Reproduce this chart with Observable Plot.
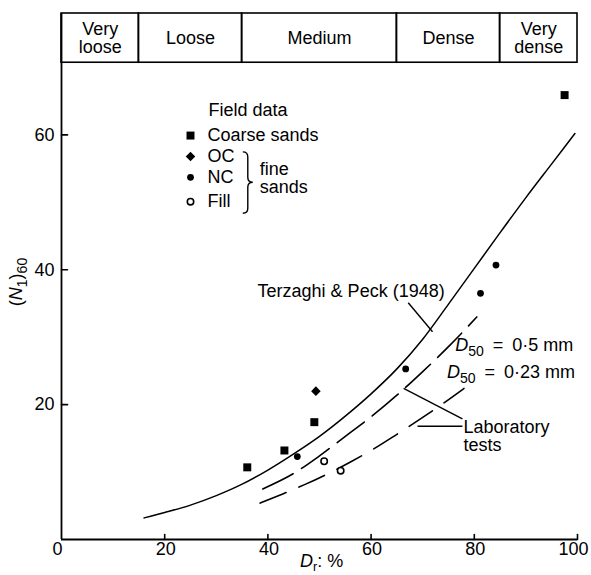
<!DOCTYPE html>
<html>
<head>
<meta charset="utf-8">
<script src="https://cdn.jsdelivr.net/npm/d3@7"></script>
<script src="https://cdn.jsdelivr.net/npm/@observablehq/plot@0.6"></script>
<style>
  html, body { margin: 0; padding: 0; background: #fff; }
  #chart svg { display: block; }
</style>
</head>
<body>
<div id="chart"></div>
<script>
const FONT = '"Liberation Sans", Arial, Helvetica, sans-serif';
const FS = 18;

// Density classes (relative density, %)
const densityClasses = ["Very\nloose", "Loose", "Medium", "Dense", "Very\ndense"];
const densityBounds = [0, 15, 35, 65, 85, 100];

// Field data: relative density Dr (%) and (N1)60
const coarseSandsDr = [36, 43.2, 49, 97.5];
const coarseSandsN  = [10.7, 13.2, 17.4, 65.9];
const ocDr = [49.3];
const ocN  = [22.0];
const ncDr = [45.7, 66.7, 81.2, 84.2];
const ncN  = [12.3, 25.3, 36.5, 40.7];
const fillDr = [50.9, 54.1];
const fillN  = [11.6, 10.2];

// Terzaghi & Peck (1948)
const tpDr = [16, 20, 25, 30, 35, 40, 45, 50, 55, 60, 65, 70, 75, 80, 85, 90, 95, 99.5];
const tpN  = [3.2, 4.0, 5.1, 6.5, 8.2, 10.3, 12.7, 15.3, 18.3, 21.6, 25.3, 29.7, 34.9, 40.2, 45.5, 50.7, 55.7, 60.2];

// Laboratory tests
const lab05Dr  = [39, 45, 50, 55, 60, 65, 70, 75, 80.5];
const lab05N   = [7.5, 9.8, 12.4, 15.3, 18.2, 21.4, 24.9, 28.6, 33.0];
const lab023Dr = [38.5, 43, 47, 52, 56, 60, 65, 70, 74, 78];
const lab023N  = [5.4, 6.8, 8.1, 9.9, 11.5, 13.2, 15.6, 18.1, 20.2, 22.4];

// Axis ticks
const xTicks = [0, 20, 40, 60, 80, 100];
const yTicks = [20, 40, 60];

// Legend entries
const legendLabels = ["Coarse sands", "OC", "NC", "Fill"];

const zip = (xs, ys) => xs.map((x, i) => ({x, y: ys[i]}));

// Band that holds the density classes, above the plotting area
const bandLow = 70.7, bandHigh = 78;
const bands = densityClasses.map((label, i) => ({label, x1: densityBounds[i], x2: densityBounds[i + 1]}));

// Short inward tick drawn by a vector mark
const tickShape = {draw(context, l) { context.moveTo(0, 0); context.lineTo(0, -l); }};

// Text with italic letters and subscripts, placed through the scales
function richText({x, y, parts, anchor = "start", rotate = 0, size = FS, px = 0, py = 0, subShift = 0.28, subSize = 0.78}) {
  return (index, scales) => {
    const X = scales.x(x) + px;
    const Y = scales.y(y) + py;
    const g = d3.create("svg:g")
      .attr("transform", `translate(${X},${Y}) rotate(${rotate})`)
      .attr("font-family", FONT)
      .attr("font-size", size)
      .attr("fill", "black");
    const t = g.append("text").attr("text-anchor", anchor).attr("dy", "0.35em");
    let shift = 0;
    for (const p of parts) {
      const want = p.sub ? subShift * size : 0;
      const s = t.append("tspan").text(p.t);
      if (want !== shift) { s.attr("dy", want - shift); shift = want; }
      if (p.sub) s.attr("font-size", subSize * size);
      if (p.italic) s.attr("font-style", "italic");
    }
    return g.node();
  };
}

// Curly brace grouping the fine sands in the legend
function brace({x, yTop, yBottom, yTip, w = 5}) {
  return (index, scales) => {
    const bx = scales.x(x), t = scales.y(yTop), b = scales.y(yBottom), m = scales.y(yTip);
    const path = `M${bx - w},${t} Q${bx},${t} ${bx},${t + 5} L${bx},${m - 5} Q${bx},${m} ${bx + w},${m}` +
                 ` Q${bx},${m} ${bx},${m + 5} L${bx},${b - 5} Q${bx},${b} ${bx - w},${b}`;
    return d3.create("svg:path").attr("d", path).attr("fill", "none")
      .attr("stroke", "black").attr("stroke-width", 1.4).node();
  };
}

const chart = Plot.plot({
  width: 591,
  height: 575,
  marginLeft: 61,
  marginRight: 14,
  marginTop: 13,
  marginBottom: 36,
  x: {domain: [0, 100]},
  y: {domain: [0, bandHigh]},
  style: {fontFamily: FONT, fontSize: FS + "px", color: "black", background: "white"},
  marks: [
    // density class band
    Plot.rect(bands, {x1: "x1", x2: "x2", y1: bandLow, y2: bandHigh, fill: "none", stroke: "black", strokeWidth: 1.6}),
    Plot.text(bands, {x: d => (d.x1 + d.x2) / 2, y: (bandLow + bandHigh) / 2, text: "label", lineHeight: 1.0, fontSize: FS}),

    // axes
    Plot.ruleX([0], {y1: 0, y2: bandHigh, stroke: "black", strokeWidth: 1.8}),
    Plot.ruleY([0], {x1: 0, x2: 100, stroke: "black", strokeWidth: 1.8}),
    Plot.vector(xTicks.slice(1), {x: d => d, y: 0, length: 5, rotate: 0, anchor: "start", shape: tickShape, stroke: "black", strokeWidth: 1.6}),
    Plot.vector(yTicks, {x: 0, y: d => d, length: 6, rotate: 90, anchor: "start", shape: tickShape, stroke: "black", strokeWidth: 1.6}),
    Plot.axisX({ticks: xTicks.slice(0, 1), tickSize: 0, tickPadding: 3, dx: -4, label: null}),
    Plot.axisX({ticks: xTicks.slice(1, -1), tickSize: 0, tickPadding: 3, dx: 1, label: null}),
    Plot.axisX({ticks: xTicks.slice(-1), tickSize: 0, tickPadding: 3, dx: -4, label: null}),
    Plot.axisY({ticks: yTicks, tickSize: 0, tickPadding: 7, label: null}),
    richText({x: 0, y: 0, px: -45, py: -257, rotate: -90, anchor: "middle",
      parts: [{t: "("}, {t: "N", italic: true}, {t: "1", sub: true}, {t: ")"}, {t: "60", sub: true}]}),
    richText({x: 0, y: 0, px: 239, py: 22, subShift: 0.2, subSize: 0.7,
      parts: [{t: "D", italic: true}, {t: "r", sub: true}, {t: ": %"}]}),

    // Terzaghi & Peck curve and laboratory curves
    Plot.line(zip(tpDr, tpN), {x: "x", y: "y", curve: "monotone-x", stroke: "black", strokeWidth: 1.5}),
    Plot.line(zip(lab05Dr, lab05N), {x: "x", y: "y", curve: "monotone-x", stroke: "black", strokeWidth: 1.6, strokeDasharray: "34,10"}),
    Plot.line(zip(lab023Dr, lab023N), {x: "x", y: "y", curve: "monotone-x", stroke: "black", strokeWidth: 1.6, strokeDasharray: "28,14"}),

    // field data
    Plot.dot(zip(coarseSandsDr, coarseSandsN), {x: "x", y: "y", symbol: "square", r: 4.5, fill: "black"}),
    Plot.dot(zip(ocDr, ocN), {x: "x", y: "y", symbol: "diamond2", r: 4.3, fill: "black"}),
    Plot.dot(zip(ncDr, ncN), {x: "x", y: "y", symbol: "circle", r: 3.4, fill: "black"}),
    Plot.dot(zip(fillDr, fillN), {x: "x", y: "y", symbol: "circle", r: 3.2, fill: "white", stroke: "black", strokeWidth: 1.6}),

    // annotations
    Plot.text(["Terzaghi & Peck (1948)"], {x: 38.0, y: 36.8, text: d => d, textAnchor: "start"}),
    Plot.link([{x1: 67.2, y1: 35.1, x2: 71.9, y2: 30.8}], {x1: "x1", y1: "y1", x2: "x2", y2: "y2", stroke: "black", strokeWidth: 1.4}),
    richText({x: 76.4, y: 28.8, parts: [{t: "D", italic: true}, {t: "50", sub: true}, {t: "\u2002=\u20020·5 mm"}]}),
    richText({x: 74.8, y: 24.8, parts: [{t: "D", italic: true}, {t: "50", sub: true}, {t: "\u2002=\u20020·23 mm"}]}),
    Plot.text(["Laboratory\ntests"], {x: 77.9, y: 15.3, text: d => d, textAnchor: "start", lineHeight: 1.0}),
    Plot.link([{x1: 66.3, y1: 22.4, x2: 77.7, y2: 17.9}, {x1: 69.0, y1: 16.8, x2: 77.7, y2: 16.8}],
      {x1: "x1", y1: "y1", x2: "x2", y2: "y2", stroke: "black", strokeWidth: 1.4}),

    // legend
    Plot.text(["Field data"], {x: 28.5, y: 63.6, text: d => d, textAnchor: "start"}),
    Plot.dot([{x: 25, y: 59.9}], {x: "x", y: "y", symbol: "square", r: 4.5, fill: "black"}),
    Plot.dot([{x: 25, y: 56.8}], {x: "x", y: "y", symbol: "diamond2", r: 4.3, fill: "black"}),
    Plot.dot([{x: 25, y: 53.7}], {x: "x", y: "y", symbol: "circle", r: 3.4, fill: "black"}),
    Plot.dot([{x: 25, y: 50.1}], {x: "x", y: "y", symbol: "circle", r: 3.2, fill: "white", stroke: "black", strokeWidth: 1.6}),
    Plot.text(legendLabels.map((label, i) => ({label, y: [59.9, 56.8, 53.7, 50.1][i]})),
      {x: 28.3, y: "y", text: "label", textAnchor: "start"}),
    brace({x: 36.2, yTop: 57.4, yBottom: 48.3, yTip: 52.9}),
    Plot.text(["fine\nsands"], {x: 38.4, y: 53.5, text: d => d, textAnchor: "start", lineHeight: 1.0})
  ]
});

document.getElementById("chart").appendChild(chart);
</script>
</body>
</html>
